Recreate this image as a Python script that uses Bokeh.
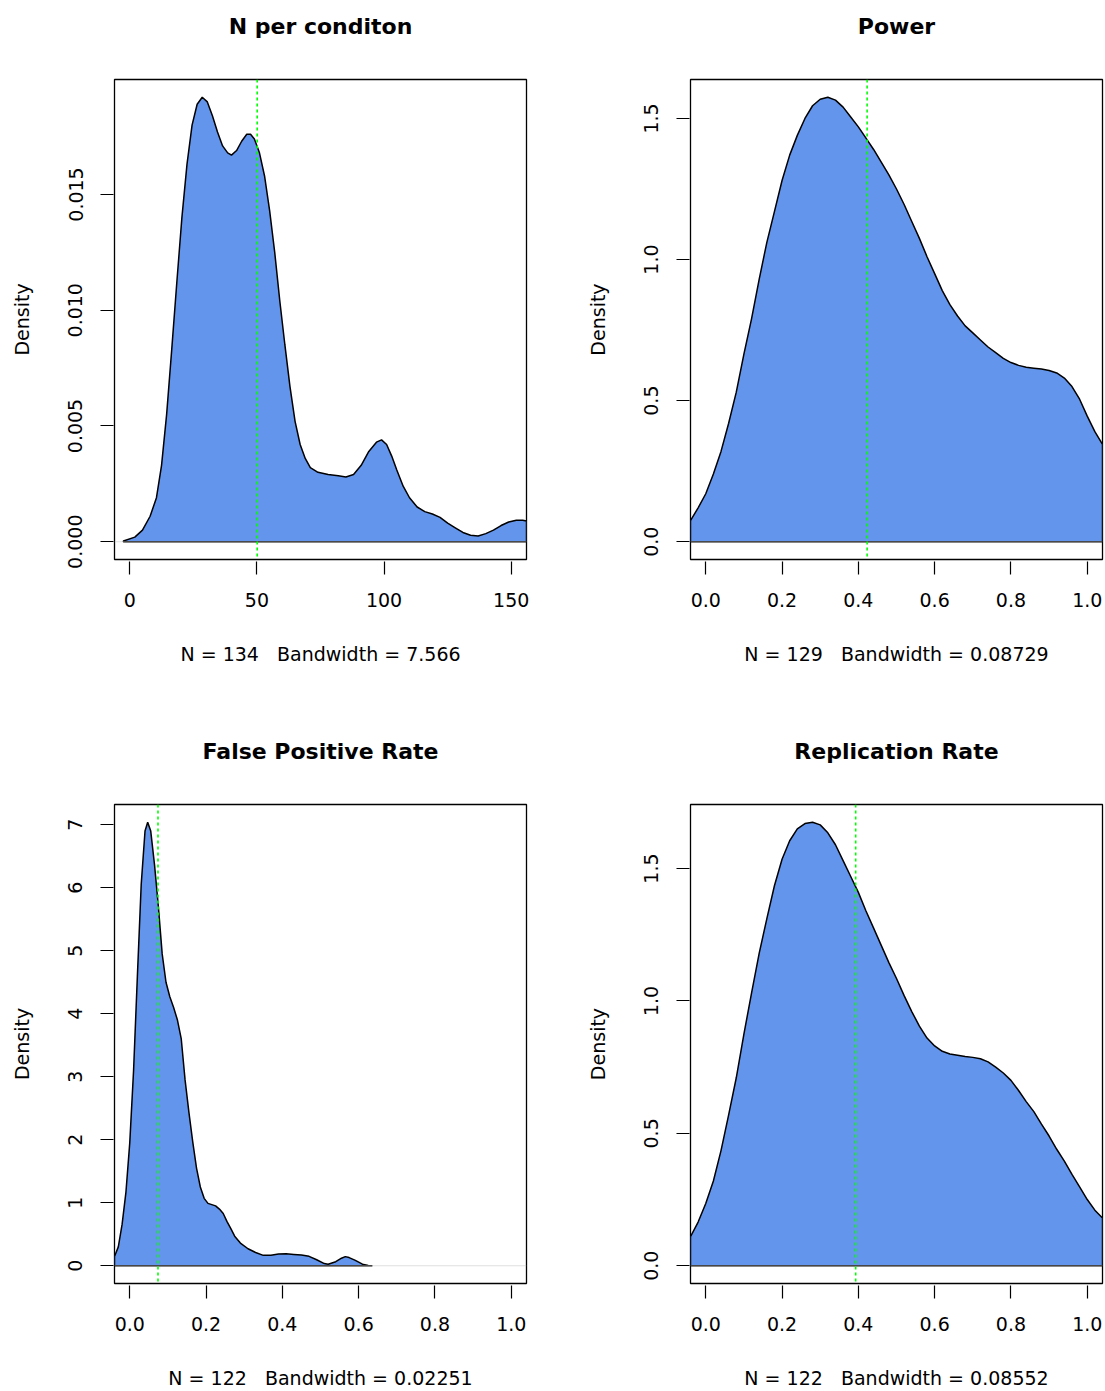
from bokeh.plotting import figure
from bokeh.layouts import column, row
from bokeh.models import Span, FixedTicker, NumeralTickFormatter, Range1d, Title
from bokeh.embed import file_html
from bokeh.resources import INLINE

# ---------------- data ----------------
titles = ["N per conditon", "Power", "False Positive Rate", "Replication Rate"]
subtitles = ["N = 134 \u00a0 Bandwidth = 7.566",
             "N = 129 \u00a0 Bandwidth = 0.08729",
             "N = 122 \u00a0 Bandwidth = 0.02251",
             "N = 122 \u00a0 Bandwidth = 0.08552"]

n_x = [-2.5, 2, 5, 8, 10.5, 12.5, 14.5, 16.5, 18.5, 20.5, 22.5, 24.5, 26.5, 28.5, 30.5,
       32.5, 34.5, 36.5, 38.5, 40, 42, 44, 46, 47.5, 49, 51, 53, 55, 57, 59, 61, 63, 65,
       67, 69, 71, 74, 78, 82, 85, 88, 91, 94, 97, 99, 101, 103, 105, 107.5, 110, 113,
       116, 119, 122, 125, 128, 131, 134, 137, 140, 143, 146, 149, 152, 154.5, 156]
n_y = [0.00003, 0.0002, 0.0005, 0.0011, 0.0019, 0.0033, 0.0055, 0.0083, 0.0112, 0.0140,
       0.0163, 0.0180, 0.0189, 0.0192, 0.0190, 0.0184, 0.0177, 0.0171, 0.0168, 0.0167,
       0.0169, 0.0173, 0.0176, 0.0176, 0.0174, 0.0168, 0.0158, 0.0143, 0.0125, 0.0104,
       0.0085, 0.0067, 0.0052, 0.0042, 0.0036, 0.0032, 0.0030, 0.0029, 0.00285, 0.0028,
       0.0029, 0.0033, 0.0039, 0.0043, 0.0044, 0.0042, 0.0037, 0.0031, 0.0024, 0.0019,
       0.0015, 0.0013, 0.0012, 0.00105, 0.0008, 0.0006, 0.0004, 0.00028, 0.00025,
       0.00035, 0.0005, 0.0007, 0.00085, 0.00093, 0.00093, 0.0009]

power_x = [-0.04, -0.02, 0.0, 0.02, 0.04, 0.06, 0.08, 0.10, 0.12, 0.14, 0.16, 0.18, 0.20,
           0.22, 0.24, 0.26, 0.28, 0.30, 0.32, 0.34, 0.36, 0.38, 0.40, 0.42, 0.44, 0.46,
           0.48, 0.50, 0.52, 0.54, 0.56, 0.58, 0.60, 0.62, 0.64, 0.66, 0.68, 0.70, 0.72,
           0.74, 0.76, 0.78, 0.80, 0.82, 0.84, 0.86, 0.88, 0.90, 0.92, 0.94, 0.96, 0.98,
           1.00, 1.02, 1.04]
power_y = [0.075, 0.12, 0.17, 0.24, 0.32, 0.42, 0.53, 0.665, 0.79, 0.93, 1.06, 1.17, 1.28,
           1.37, 1.44, 1.50, 1.545, 1.568, 1.575, 1.565, 1.54, 1.505, 1.47, 1.43, 1.39,
           1.345, 1.30, 1.25, 1.195, 1.135, 1.075, 1.01, 0.95, 0.89, 0.84, 0.80, 0.765,
           0.74, 0.715, 0.69, 0.67, 0.65, 0.635, 0.625, 0.618, 0.615, 0.612, 0.607, 0.598,
           0.58, 0.55, 0.505, 0.445, 0.39, 0.345]

fpr_x = [-0.04, -0.03, -0.02, -0.01, 0.0, 0.01, 0.02, 0.03, 0.04, 0.047, 0.055, 0.065,
         0.075, 0.085, 0.095, 0.105, 0.115, 0.125, 0.135, 0.145, 0.155, 0.165, 0.175,
         0.185, 0.195, 0.205, 0.215, 0.225, 0.235, 0.245, 0.255, 0.265, 0.275, 0.29, 0.31,
         0.33, 0.35, 0.37, 0.39, 0.41, 0.43, 0.45, 0.47, 0.49, 0.51, 0.52, 0.54, 0.555,
         0.565, 0.575, 0.59, 0.61, 0.625, 0.636]
fpr_y = [0.146, 0.30, 0.66, 1.17, 1.95, 3.1, 4.6, 6.05, 6.9, 7.04, 6.9, 6.36, 5.7, 4.95,
         4.5, 4.27, 4.1, 3.9, 3.6, 2.95, 2.44, 1.97, 1.55, 1.25, 1.07, 0.99, 0.97, 0.95,
         0.9, 0.83, 0.70, 0.59, 0.47, 0.36, 0.27, 0.21, 0.165, 0.165, 0.185, 0.19, 0.18,
         0.17, 0.15, 0.095, 0.035, 0.025, 0.065, 0.12, 0.145, 0.13, 0.09, 0.025, 0.005, 0.0]

rep_x = [-0.04, -0.02, 0.0, 0.02, 0.04, 0.06, 0.08, 0.10, 0.12, 0.14, 0.16, 0.18, 0.20,
         0.22, 0.24, 0.26, 0.28, 0.30, 0.32, 0.34, 0.36, 0.38, 0.40, 0.42, 0.44, 0.46,
         0.48, 0.50, 0.52, 0.54, 0.56, 0.58, 0.60, 0.62, 0.64, 0.66, 0.68, 0.70, 0.72,
         0.74, 0.76, 0.78, 0.80, 0.82, 0.84, 0.86, 0.88, 0.90, 0.92, 0.94, 0.96, 0.98,
         1.00, 1.02, 1.04]
rep_y = [0.11, 0.165, 0.235, 0.32, 0.435, 0.57, 0.71, 0.875, 1.03, 1.18, 1.31, 1.435,
         1.535, 1.605, 1.65, 1.67, 1.675, 1.665, 1.635, 1.59, 1.53, 1.47, 1.41, 1.34,
         1.275, 1.21, 1.145, 1.085, 1.02, 0.96, 0.905, 0.86, 0.83, 0.81, 0.80, 0.795,
         0.79, 0.787, 0.782, 0.77, 0.75, 0.728, 0.70, 0.662, 0.62, 0.582, 0.535, 0.49,
         0.44, 0.395, 0.345, 0.298, 0.25, 0.21, 0.18]

xlims = [[0, 150], [0, 1], [0, 1], [0, 1]]
x_ticks = [[0, 50, 100, 150], [0, 0.2, 0.4, 0.6, 0.8, 1.0],
           [0, 0.2, 0.4, 0.6, 0.8, 1.0], [0, 0.2, 0.4, 0.6, 0.8, 1.0]]
y_ticks = [[0, 0.005, 0.010, 0.015], [0, 0.5, 1.0, 1.5],
           [0, 1, 2, 3, 4, 5, 6, 7], [0, 0.5, 1.0, 1.5]]
x_formats = ["0", "0.0", "0.0", "0.0"]
y_formats = ["0.000", "0.0", "0", "0.0"]
mean_lines = [50.1, 0.423, 0.074, 0.393]

curves = [(n_x, n_y), (power_x, power_y), (fpr_x, fpr_y), (rep_x, rep_y)]

FONT = "DejaVu Sans"


def make_panel(i, width, height, bl, br, bt, bb):
    xs, ys = curves[i]
    lo, hi = xlims[i]
    ext = 0.04 * (hi - lo)
    ymax = max(ys)
    p = figure(width=width, height=height, output_backend="svg", toolbar_location=None,
               x_range=Range1d(lo - ext, hi + ext),
               y_range=Range1d(-0.04 * ymax, 1.04 * ymax),
               min_border_left=bl, min_border_right=br,
               min_border_top=bt, min_border_bottom=bb)
    p.background_fill_color = "white"
    p.border_fill_color = "white"
    p.outline_line_color = "black"
    p.outline_line_width = 1.3
    p.grid.visible = False

    for ax in (p.xaxis[0], p.yaxis[0]):
        ax.axis_line_color = None
        ax.major_tick_line_color = "black"
        ax.major_tick_line_width = 1.2
        ax.minor_tick_line_color = None
        ax.major_label_text_font = FONT
        ax.major_label_text_font_size = "19px"
        ax.major_label_text_color = "black"
        ax.axis_label_text_font = FONT
        ax.axis_label_text_font_size = "19px"
        ax.axis_label_text_font_style = "normal"
        ax.axis_label_text_color = "black"

    p.xaxis.major_tick_in = -2
    p.xaxis.major_tick_out = 15
    p.xaxis.ticker = FixedTicker(ticks=x_ticks[i])
    p.xaxis.formatter = NumeralTickFormatter(format=x_formats[i])
    p.xaxis.major_label_standoff = 18
    p.xaxis.axis_label = subtitles[i]
    p.xaxis.axis_label_standoff = 33

    p.yaxis.major_tick_in = -1
    p.yaxis.major_tick_out = 14
    p.yaxis.ticker = FixedTicker(ticks=y_ticks[i])
    p.yaxis.formatter = NumeralTickFormatter(format=y_formats[i])
    p.yaxis.major_label_orientation = "vertical"
    p.yaxis.major_label_standoff = 18
    p.yaxis.axis_label = "Density"
    p.yaxis.axis_label_standoff = 33

    px = [xs[0]] + list(xs) + [xs[-1]]
    py = [0] + list(ys) + [0]
    p.patch(px, py, fill_color="#6495ED", line_color="black", line_width=1.5)
    p.add_layout(Span(location=0, dimension="width", line_color="#BEBEBE", line_width=0.5))
    p.add_layout(Span(location=mean_lines[i], dimension="height", line_color="#00FF00",
                      line_width=1.6, line_dash="3 3"))
    # spacer title next to the frame, then the real title above it
    p.add_layout(Title(text=" ", text_font=FONT, text_font_size="24px", standoff=0),
                 "above")
    p.add_layout(Title(text=titles[i], align="center", text_font=FONT,
                       text_font_size="22px", text_font_style="bold",
                       text_color="black", standoff=22), "above")
    return p


p1 = make_panel(0, 552, 692, 114, 26, 78, 133)
p2 = make_panel(1, 553, 692, 138, 3, 78, 133)
p3 = make_panel(2, 552, 699, 114, 26, 112, 107)
p4 = make_panel(3, 553, 699, 138, 3, 112, 107)

layout = column(row(p1, p2), row(p3, p4))

open("out.html", "w").write(file_html(layout, INLINE))
